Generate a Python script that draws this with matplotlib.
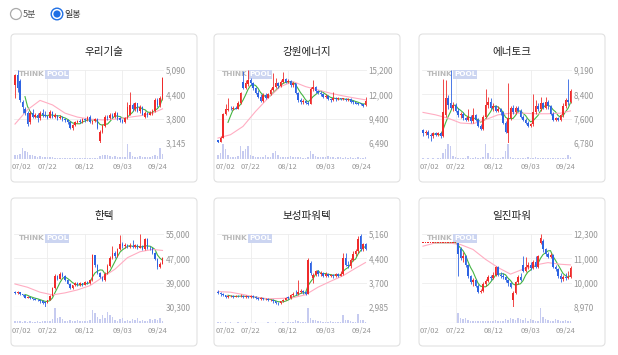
import numpy as np
import pandas as pd
import matplotlib
matplotlib.use("Agg")
import matplotlib.pyplot as plt
from matplotlib.patches import FancyBboxPatch, Circle
from matplotlib.transforms import IdentityTransform

plt.rcParams['font.family'] = ['Noto Sans CJK KR', 'DejaVu Sans']

# ---------------- data ----------------
dates = ["07/02", "07/22", "08/12", "09/03", "09/24"]

# 우리기술
woori_open = [4700, 4950, 4800, 4250, 4050, 3950, 3700, 3950, 3850, 3900, 3800, 3950, 3900, 3870, 3820,
              3980, 3850, 3880, 3800, 3850, 3780, 3750, 3700, 3550, 3620, 3700, 3720, 3700, 3780, 3760,
              3850, 3700, 3720, 3780, 3200, 3450, 3600, 3850, 3800, 3900, 3850, 3950, 3800, 3750, 3700,
              3800, 3900, 4150, 4050, 4200, 4000, 4100, 3850, 3950, 3900, 3950, 4000, 4300, 4150, 4350]
woori_close = [4950, 4600, 4300, 4100, 3950, 3650, 3950, 3850, 3900, 3800, 3950, 3900, 3870, 3820, 3980,
               3850, 3880, 3800, 3850, 3780, 3750, 3700, 3550, 3620, 3700, 3720, 3700, 3780, 3760, 3850,
               3700, 3720, 3780, 3550, 3450, 3600, 3850, 3800, 3900, 3850, 3950, 3800, 3750, 3700, 3800,
               4100, 4150, 4050, 4200, 4000, 4100, 3900, 3950, 3900, 3950, 4000, 4300, 4150, 4350, 4880]
woori_high = [4980, 5090, 4850, 4300, 4100, 4000, 4000, 4050, 3950, 3950, 4000, 4050, 4000, 3900, 4020,
              4000, 3950, 3900, 3900, 3870, 3800, 3780, 3720, 3650, 3720, 3760, 3780, 3800, 3800, 3870,
              3880, 3760, 3800, 3800, 3500, 3650, 3900, 3900, 3950, 3950, 4000, 3980, 3850, 3780, 3850,
              4250, 4500, 4200, 4250, 4220, 4150, 4120, 4000, 3980, 4000, 4050, 4350, 4350, 4400, 4900]
woori_low = [4350, 4500, 4250, 3950, 3900, 3600, 3650, 3800, 3800, 3700, 3750, 3850, 3850, 3780, 3800,
             3800, 3820, 3750, 3780, 3720, 3700, 3650, 3520, 3500, 3600, 3680, 3680, 3680, 3700, 3740,
             3680, 3650, 3700, 3530, 3145, 3420, 3580, 3750, 3780, 3800, 3820, 3750, 3700, 3680, 3680,
             3780, 3880, 4000, 4000, 3980, 3950, 3880, 3800, 3850, 3880, 3900, 3980, 4100, 4100, 4300]
woori_vol = [10, 12, 15, 30, 22, 18, 12, 10, 8, 6, 8, 6, 5, 5, 6, 5, 4, 4, 4, 4, 3,
             3, 4, 3, 3, 3, 3, 3, 3, 3, 3, 3, 3, 3, 8, 10, 12, 10, 8, 6, 8, 6, 5, 6, 5,
             42, 18, 8, 6, 6, 8, 6, 5, 6, 6, 7, 10, 8, 30, 14]
woori_ma20 = [3650, 4030, 4280, 4160, 3940, 3835, 3780, 3760, 3780, 3825, 3870, 3940, 4055]
woori_ylabels = ["5,090", "4,400", "3,800", "3,145"]

# 강원에너지
kw_open = [6800, 6650, 7100, 10000, 10400, 10600, 10500, 10700, 10600, 11300, 13800, 13000, 13500, 14000, 13600,
           13000, 12500, 12000, 11500, 12200, 11900, 12300, 12800, 13200, 13600, 13300, 13800, 14100, 13800, 13900,
           13400, 13600, 12500, 11600, 11400, 11500, 11300, 11200, 12900, 13200, 12700, 12500, 12300, 12000, 12100,
           11700, 11600, 11900, 11700, 11800, 11700, 11750, 11600, 11700, 11400, 11350, 11200, 11150, 11100, 11000]
kw_close = [6650, 7100, 9900, 10500, 10600, 10500, 10700, 10600, 11300, 12400, 13000, 13700, 14000, 13600, 13000,
            12500, 12000, 11500, 12200, 11900, 12300, 12800, 13200, 13600, 13300, 13800, 14100, 13800, 13900, 13400,
            13600, 12500, 11600, 11400, 11500, 11300, 11200, 12900, 13200, 12700, 12500, 12300, 12000, 12100, 11700,
            11600, 11900, 11700, 11800, 11700, 11750, 11600, 11700, 11400, 11350, 11200, 11150, 11100, 10900, 11500]
kw_high = [6900, 7300, 10050, 11200, 11800, 10900, 10850, 10900, 11500, 12600, 15100, 14000, 15200, 14200, 13800,
           13200, 12800, 12300, 12500, 12400, 12500, 13000, 14800, 14200, 13800, 14000, 15000, 14300, 14100, 14000,
           13800, 13700, 12600, 11800, 11700, 11600, 11500, 13200, 14000, 13300, 12800, 12700, 12500, 12300, 12200,
           11800, 12600, 12000, 11950, 11900, 11900, 11800, 11850, 11800, 11600, 11400, 11300, 11300, 11200, 12000]
kw_low = [6490, 6600, 7050, 9800, 10300, 10400, 10400, 10500, 10500, 11200, 12900, 12900, 13300, 13400, 12800,
          12300, 11800, 11400, 11400, 11700, 11800, 12200, 12700, 13000, 13100, 13200, 13700, 13600, 13600, 13200,
          13200, 12300, 11400, 11200, 11200, 11100, 11000, 11100, 12700, 12500, 12300, 12100, 11800, 11900, 11600,
          11400, 11500, 11500, 11600, 11600, 11600, 11500, 11500, 11300, 11200, 11100, 11000, 11000, 10800, 10950]
kw_vol = [10, 15, 40, 25, 10, 5, 5, 5, 8, 35, 20, 25, 35, 10, 8, 6, 5, 4, 5, 10, 5, 4,
          15, 22, 10, 6, 6, 5, 6, 8, 5, 4, 4, 4, 3, 3, 4, 20, 12, 8, 6,
          4, 5, 4, 8, 5, 4, 3, 4, 5, 3, 4, 3, 4, 3, 3, 4, 3, 3, 5]
kw_ma20 = [7080, 7480, 8470, 10250, 11840, 13220, 13820, 13220, 12820, 12430, 12110, 11840, 11640]
kw_ylabels = ["15,200", "12,000", "9,400", "6,490"]

# 에너토크
et_open = [7200, 7100, 7150, 7050, 7000, 7100, 7050, 7100, 7000, 7700, 8250, 8100, 7950, 8050, 7850,
           7700, 7750, 7600, 7550, 7650, 7500, 7700, 7550, 7350, 7250, 7650, 8050, 8150, 7950, 8000,
           7850, 7900, 7800, 7450, 7100, 7600, 7950, 7800, 7950, 7850, 7650, 7550, 7450, 7350, 7400,
           7800, 8000, 7900, 8100, 7950, 8150, 8000, 7750, 7550, 7600, 7550, 7700, 8000, 8200, 8150]
et_close = [7100, 7150, 7050, 7000, 7100, 7050, 7100, 7000, 7800, 8250, 8050, 7950, 8050, 7850, 7700,
            7750, 7600, 7550, 7650, 7500, 7700, 7550, 7350, 7250, 7650, 8050, 8150, 7950, 8000, 7850,
            7900, 7800, 7450, 7150, 7600, 7950, 7800, 7950, 7850, 7650, 7550, 7450, 7350, 7400, 7800,
            8000, 7900, 8100, 7950, 8150, 8000, 7750, 7550, 7600, 7550, 7700, 8000, 8200, 8150, 8500]
et_high = [7250, 7200, 7200, 7100, 7150, 7150, 7150, 7150, 8900, 8850, 8350, 9190, 8150, 8100, 7950,
           7800, 7800, 7650, 7900, 7700, 7950, 7750, 7600, 7400, 7700, 8550, 8300, 8250, 8100, 8050,
           8000, 7950, 7850, 7500, 8750, 8000, 8050, 8000, 8000, 7900, 7700, 7600, 7500, 7450, 8400,
           8200, 8100, 8300, 8150, 8300, 8200, 8050, 7800, 7650, 7650, 7750, 8100, 8250, 8900, 8550]
et_low = [7000, 7050, 6950, 6830, 6950, 7000, 7000, 6950, 6980, 7650, 7900, 7900, 7850, 7800, 7650,
          7600, 7550, 7500, 7500, 7450, 7450, 7500, 7300, 7200, 7200, 7600, 7950, 7900, 7850, 7800,
          7800, 7700, 7400, 7100, 6780, 7550, 7750, 7750, 7800, 7600, 7500, 7400, 7300, 7300, 7350,
          7750, 7850, 7850, 7900, 7900, 7900, 7700, 7500, 7500, 7500, 7500, 7650, 7950, 8050, 8100]
et_vol = [2, 1, 2, 1, 2, 1, 2, 2, 15, 25, 40, 35, 8, 5, 3, 3, 3, 3, 8, 3, 3, 4, 3, 3, 5,
          40, 15, 5, 2, 2, 2, 3, 4, 20, 40, 5, 3, 3, 3, 2, 2, 2, 4, 3, 2, 6,
          2, 2, 3, 2, 2, 2, 3, 2, 2, 2, 3, 3, 10, 4]
et_ma20 = [7790, 7710, 7600, 7440, 7415, 7550, 7710, 7765, 7765, 7745, 7745, 7765, 7840]
et_ylabels = ["9,190", "8,400", "7,600", "6,780"]

# 한텍
ht_open = [35500, 35000, 35300, 34600, 34200, 33500, 33700, 33300, 33100, 32800, 32500, 32300, 31800, 31700, 32600,
           34000, 36800, 40800, 39900, 41500, 40700, 39500, 38200, 36700, 37600, 38500, 37700, 38300, 37800, 38800,
           38400, 39400, 47800, 44500, 41800, 40500, 39300, 41500, 44300, 46800, 48500, 47500, 49800, 51700, 50800,
           51300, 50500, 51000, 50600, 51200, 50300, 50900, 49800, 53200, 50400, 50100, 48600, 46500, 43800, 45000]
ht_close = [35000, 35300, 34600, 34200, 33500, 33700, 33300, 33100, 32800, 32500, 32300, 31800, 31700, 32600, 34000,
            36800, 40800, 39900, 41500, 40700, 39500, 38200, 36700, 37600, 38500, 37700, 38300, 37800, 38800, 38400,
            39600, 47800, 44500, 41800, 40500, 39300, 41500, 44300, 46800, 48500, 47500, 49800, 51700, 50800, 51300,
            50500, 51000, 50600, 51200, 50300, 50900, 49800, 53200, 50400, 50100, 48600, 46500, 43800, 45000, 46800]
ht_high = [35800, 35600, 35400, 34800, 34300, 33900, 33800, 33500, 33300, 33000, 32700, 32500, 32000, 32800, 34300,
           37000, 41500, 41200, 42200, 42000, 41000, 39800, 38500, 37900, 38800, 38800, 38600, 38500, 39100, 39200,
           39800, 48300, 48000, 45000, 42300, 40800, 42000, 44800, 47500, 50800, 49200, 50400, 54500, 52300, 51800,
           51600, 52000, 53000, 51600, 51500, 55000, 51200, 53800, 53500, 50800, 50300, 48800, 46800, 45400, 47200]
ht_low = [34700, 34800, 34400, 33900, 33300, 33200, 33000, 32800, 32500, 32200, 31800, 31400, 30300, 31500, 32500,
          33900, 36500, 39500, 39800, 40300, 39200, 38000, 36400, 36300, 37300, 37400, 37400, 37500, 37600, 38100,
          38200, 39200, 44000, 41500, 40200, 39000, 39200, 41300, 44000, 46500, 47000, 47200, 49500, 50300, 50200,
          50100, 50200, 50300, 50200, 50000, 50100, 49500, 49600, 50000, 49700, 48300, 46200, 43300, 43500, 44800]
ht_vol = [4, 5, 4, 3, 4, 3, 4, 3, 3, 4, 3, 5, 6, 5, 6, 10, 40, 12, 15, 10,
          6, 5, 8, 5, 6, 7, 5, 6, 5, 6, 8, 35, 25, 15, 10, 20, 12, 30, 20, 15, 8, 6,
          10, 12, 6, 8, 6, 10, 8, 12, 6, 8, 6, 4, 10, 8, 10, 8, 12, 6]
ht_ma20 = [38090, 36980, 35310, 34400, 35080, 36090, 37530, 40320, 43100, 47000, 49000, 49780, 49440]
ht_ylabels = ["55,000", "47,000", "39,000", "30,300"]

# 보성파워텍
bs_open = [3440, 3400, 3360, 3330, 3280, 3300, 3310, 3290, 3320, 3300, 3320, 3290, 3300, 3270, 3310,
           3280, 3250, 3230, 3240, 3210, 3220, 3180, 3200, 3150, 3100, 3090, 3150, 3200, 3260, 3250,
           3330, 3380, 3360, 3420, 3460, 3420, 3380, 4300, 3850, 3950, 4050, 3960, 4000, 3920, 3980,
           3920, 3940, 3900, 3960, 3920, 3980, 4450, 4250, 4200, 4400, 4550, 4650, 5100, 4700, 4850]
bs_close = [3400, 3360, 3330, 3280, 3300, 3310, 3290, 3320, 3300, 3320, 3290, 3300, 3270, 3310, 3280,
            3250, 3230, 3240, 3210, 3220, 3180, 3200, 3150, 3100, 3090, 3150, 3200, 3260, 3250, 3330,
            3380, 3360, 3420, 3460, 3420, 3380, 4400, 4000, 3950, 4050, 3960, 4000, 3920, 3980, 3920,
            3940, 3900, 3960, 3920, 3980, 4450, 4250, 4200, 4400, 4550, 4650, 5000, 4700, 4850, 4720]
bs_high = [3480, 3430, 3400, 3350, 3330, 3340, 3340, 3350, 3340, 3360, 3340, 3330, 3320, 3340, 3330,
           3300, 3280, 3270, 3260, 3250, 3240, 3230, 3220, 3170, 3130, 3170, 3230, 3290, 3300, 3360,
           3420, 3500, 3800, 3530, 3500, 3450, 4450, 4350, 4000, 4100, 4100, 4050, 4040, 4020, 4010,
           3980, 3960, 4000, 4000, 4050, 4600, 4600, 4350, 4450, 4650, 4700, 5100, 5160, 4900, 4900]
bs_low = [3380, 3320, 3300, 3240, 3250, 3270, 3260, 3270, 3270, 3280, 3260, 3260, 3240, 3250, 3250,
          3210, 3200, 3190, 3180, 3180, 3150, 3150, 3110, 3060, 3050, 3060, 3130, 3180, 3220, 3230,
          3300, 3330, 3340, 3400, 3380, 3330, 3360, 3950, 3700, 3900, 3920, 3900, 3880, 3880, 3870,
          3880, 3860, 3870, 3890, 3900, 3950, 4200, 4150, 4150, 4350, 4500, 4600, 4650, 4650, 4680]
bs_vol = [2, 2, 1, 2, 1, 2, 1, 1, 2, 1, 1, 2, 1, 1, 1, 2, 1, 1, 1, 1, 2, 1, 1, 2, 1, 1, 2, 1, 2, 2, 3,
          8, 6, 3, 4, 3, 45, 15, 10, 8, 6, 5, 4, 3, 3, 5, 4, 3, 3, 4,
          25, 8, 10, 5, 4, 3, 28, 10, 8, 4]
bs_ma20 = [3445, 3426, 3357, 3280, 3230, 3240, 3260, 3350, 3575, 3750, 3916, 4140, 4310]
bs_ylabels = ["5,160", "4,400", "3,700", "2,985"]

# 일진파워
ij_open = [11900] * 14 + [
    11900, 11600, 11200, 11300, 10900, 10400, 10100, 10200, 9950, 9650, 9700, 10000, 10150, 10350, 10300,
    10450, 10800, 10450, 10400, 10350, 10200, 10050, 9300, 9600, 10100, 10350, 10900, 10600, 10800, 10900,
    10750, 11000, 10800, 11900, 12000, 11600, 11400, 11250, 11350, 10800, 10700, 10400, 10250, 10350, 10300, 10350]
ij_close = [11900] * 14 + [
    11400, 11200, 11300, 10900, 10400, 10100, 10200, 9950, 9650, 9700, 10000, 10150, 10350, 10300, 10450,
    10800, 10450, 10400, 10350, 10200, 10050, 9900, 9600, 10100, 10350, 10200, 10600, 10800, 10900, 10750,
    11000, 10800, 11300, 12100, 11600, 11400, 11250, 11350, 10800, 10700, 10400, 10250, 10350, 10300, 10350, 10750]
ij_high = [11900] * 14 + [
    11900, 11700, 11500, 11350, 10950, 10450, 10300, 10250, 10000, 9800, 10100, 10250, 10450, 10450, 10550,
    10850, 10850, 10550, 10500, 10400, 10250, 10100, 9700, 10150, 10450, 10500, 11300, 11250, 11000, 11000,
    11100, 11300, 11350, 12300, 12050, 11650, 11500, 11450, 11400, 10900, 10750, 10500, 10450, 10500, 10600, 10850]
ij_low = [11900] * 14 + [
    10400, 11100, 11000, 10800, 10300, 10000, 9950, 9900, 9600, 9600, 9650, 9950, 10100, 10200, 10250,
    10400, 10400, 10300, 10250, 10100, 9950, 9850, 8970, 9550, 10000, 10150, 10550, 10550, 10700, 10650,
    10700, 10750, 10750, 11850, 11500, 11300, 11200, 11200, 10750, 10600, 10300, 10100, 10150, 10200, 10250, 10300]
ij_vol = [1] * 14 + [25, 12, 10, 14, 8, 6, 5, 6, 5, 6, 5, 4, 6, 5, 6, 7,
                     4, 5, 6, 10, 8, 12, 10, 8, 12, 10, 8, 14, 6, 10, 8,
                     5, 6, 40, 15, 10, 8, 6, 5, 10, 8, 6, 4, 8, 6, 5]
ij_ma20 = [11745, 11895, 11895, 11820, 11595, 11145, 10770, 10470, 10695, 10890, 10995, 10920, 10890]
ij_ylabels = ["12,300", "11,000", "10,000", "8,970"]

panels = [
    ("우리기술", woori_open, woori_close, woori_high, woori_low, woori_vol, woori_ma20, woori_ylabels),
    ("강원에너지", kw_open, kw_close, kw_high, kw_low, kw_vol, kw_ma20, kw_ylabels),
    ("에너토크", et_open, et_close, et_high, et_low, et_vol, et_ma20, et_ylabels),
    ("한텍", ht_open, ht_close, ht_high, ht_low, ht_vol, ht_ma20, ht_ylabels),
    ("보성파워텍", bs_open, bs_close, bs_high, bs_low, bs_vol, bs_ma20, bs_ylabels),
    ("일진파워", ij_open, ij_close, ij_high, ij_low, ij_vol, ij_ma20, ij_ylabels),
]

# ---------------- layout ----------------
W, H = 618, 355
fig = plt.figure(figsize=(W / 100, H / 100), dpi=100)
fig.patch.set_facecolor("white")
PIX = IdentityTransform()

RED = "#ef2b2b"
BLUE = "#2d63e3"
GREEN = "#45b543"
PINK = "#ffadc2"
VOLC = "#c6cbf0"
GRID = "#ededed"
LBL = "#959595"


def rect(x, y, w, h):
    # pixel box (top-left origin) -> figure fraction
    return [x / W, 1 - (y + h) / H, w / W, h / H]


# radio buttons
fig.add_artist(Circle((16, H - 14), 5.5, transform=PIX, fc="white", ec="#aaaaaa", lw=0.9))
fig.text(23 / W, 1 - 14 / H, "5분", fontsize=6.5, color="#555555", va="center")
fig.add_artist(Circle((57, H - 14), 5.8, transform=PIX, fc="white", ec="#1f6fe5", lw=1.0))
fig.add_artist(Circle((57, H - 14), 3.6, transform=PIX, fc="#1f6fe5", ec="none"))
fig.text(64 / W, 1 - 14 / H, "일봉", fontsize=6.5, color="#333333", va="center")

card_x = [11, 214, 419]
card_y = [34, 198]
CW, CH = 186, 148
grid_idx = [13, 28, 43]

for k, (title, o, c, h, l, vol, ma20, ylabels) in enumerate(panels):
    x0 = card_x[k % 3]
    y0 = card_y[k // 3]
    fig.add_artist(FancyBboxPatch((x0, H - y0 - CH), CW, CH, transform=PIX,
                                  boxstyle="round,pad=0,rounding_size=4",
                                  fc="white", ec="#e1e1e1", lw=0.8, zorder=-5))
    fig.text((x0 + CW / 2) / W, 1 - (y0 + 18) / H, title, ha="center", va="center",
             fontsize=7.6, color="#222222", weight="medium")

    o, c, h, l = (np.array(a, dtype=float) for a in (o, c, h, l))
    n = len(c)
    idx = np.arange(n)
    lo = float(ylabels[-1].replace(",", ""))
    hi = float(ylabels[0].replace(",", ""))

    ax = fig.add_axes(rect(x0 + 2.75, y0 + 36, 150, 73))
    ax.set_facecolor("none")
    ax.set_xlim(-0.5, n - 0.5)
    ax.set_ylim(lo, hi)
    for s in ax.spines.values():
        s.set_visible(False)

    ticks = np.linspace(hi, lo, 4)
    for t in ticks[:-1]:
        ax.axhline(t, color=GRID, lw=0.6, zorder=0)
    ax.axhline(lo, color="#e2e2e2", lw=0.8, zorder=0)
    for g in grid_idx:
        ax.axvline(g, color=GRID, lw=0.6, zorder=0)

    # watermark
    ax.text(x0 + 8, H - (y0 + 40.5), "THINK", transform=PIX, fontsize=5.3, weight="bold",
            color="#b9b9b9", va="center", ha="left", family="DejaVu Sans", zorder=0.5)
    ax.text(x0 + 35, H - (y0 + 40.5), "POOL", transform=PIX, fontsize=5.3, weight="bold",
            color="white", va="center", ha="left", family="DejaVu Sans", zorder=0.5,
            bbox=dict(boxstyle="square,pad=0.15", fc="#ccd5f1", ec="none"))

    # moving averages
    ma5 = pd.Series(c).rolling(5).mean()
    ax.plot(idx, ma5, color=GREEN, lw=0.8, zorder=1)
    ma_idx = list(range(0, n, 5)) + [n - 1]
    ax.plot(ma_idx, ma20, color=PINK, lw=0.8, zorder=1)

    # candles
    cols = np.where(c >= o, RED, BLUE)
    ax.vlines(idx, l, h, colors=cols, lw=0.6, zorder=2)
    body = np.maximum(np.abs(c - o), (hi - lo) * 0.012)
    ax.bar(idx, body, bottom=np.minimum(o, c), width=0.7, color=cols, lw=0, zorder=3)

    ax.yaxis.tick_right()
    ax.set_yticks(ticks)
    ax.set_yticklabels(ylabels)
    ax.tick_params(axis="y", length=0, pad=1.2, labelsize=5.8, labelcolor=LBL)
    ax.set_xticks([])

    # volume
    axv = fig.add_axes(rect(x0 + 2.75, y0 + 109, 150, 16))
    axv.set_facecolor("none")
    axv.set_xlim(-0.5, n - 0.5)
    axv.set_ylim(0, max(vol) * 1.05)
    for s in axv.spines.values():
        s.set_visible(False)
    for g in grid_idx:
        axv.axvline(g, color=GRID, lw=0.6, zorder=0)
    axv.bar(idx, vol, width=0.7, color=VOLC, lw=0, zorder=2)
    axv.axhline(0, color=VOLC, lw=0.8, zorder=2)
    axv.set_yticks([])
    axv.set_xticks([2.8] + grid_idx + [n - 2.8])
    axv.set_xticklabels(dates)
    axv.tick_params(axis="x", length=0, pad=3, labelsize=5.4, labelcolor=LBL)

fig.savefig("out.png", dpi=100, facecolor="white")
